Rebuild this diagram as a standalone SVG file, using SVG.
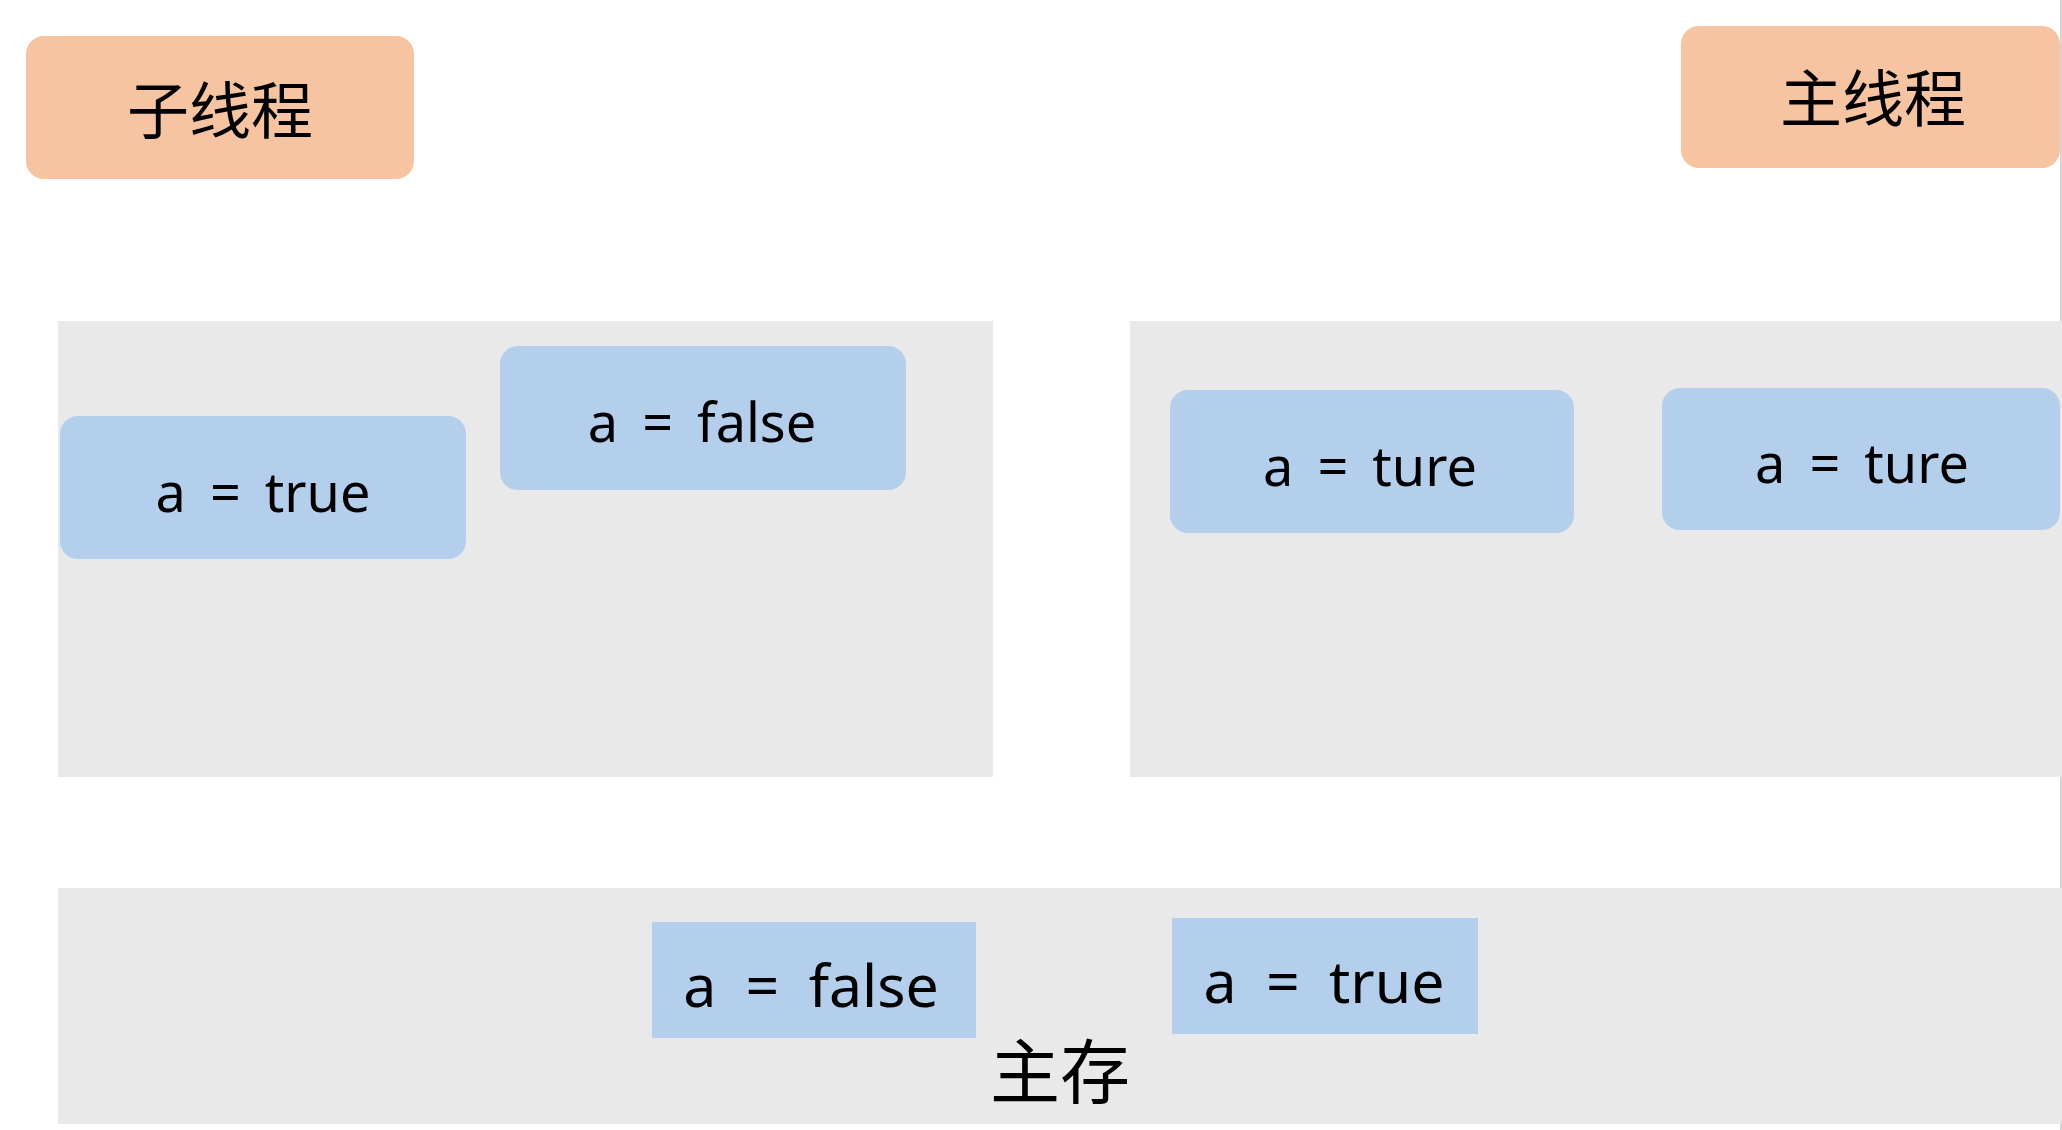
<svg xmlns="http://www.w3.org/2000/svg" width="2062" height="1130" viewBox="0 0 2062 1130">
  <style>
    .thread { fill: #F6C4A0; }
    .var { fill: #B3CFEB; }
    .panel { fill: #E9E9E9; }
    .cjk { font-family: "Noto Sans CJK SC", "Noto Sans", sans-serif; fill: #000; text-anchor: middle; }
    .lat { font-family: "Noto Sans", "Noto Sans CJK SC", sans-serif; fill: #000; text-anchor: middle; font-size: 54px; word-spacing: 10px; }
    .lat-big { font-family: "Noto Sans", "Noto Sans CJK SC", sans-serif; fill: #000; text-anchor: middle; font-size: 59px; word-spacing: 14px; }
  </style>
  <rect x="0" y="0" width="2062" height="1130" fill="#FFFFFF"/>
  <line x1="2061" y1="0" x2="2061" y2="1130" stroke="#D4D4D4" stroke-width="2"/>

  <g id="thread-sub">
    <rect class="thread" x="26" y="36" width="388" height="143" rx="18"/>
    <text class="cjk" x="220" y="134" font-size="62">子线程</text>
  </g>
  <g id="thread-main">
    <rect class="thread" x="1681" y="26" width="379" height="142" rx="18"/>
    <text class="cjk" x="1873" y="122" font-size="62">主线程</text>
  </g>

  <g id="panel-sub">
    <rect class="panel" x="58" y="321" width="935" height="456"/>
  </g>
  <g id="panel-main">
    <rect class="panel" x="1130" y="321" width="932" height="456"/>
  </g>
  <g id="main-memory">
    <rect class="panel" x="58" y="888" width="2004" height="236"/>
    <text class="cjk" x="1060" y="1098" font-size="70">主存</text>
  </g>

  <g id="sub-a-true">
    <rect class="var" x="60" y="416" width="406" height="143" rx="18"/>
    <text class="lat" x="263" y="512">a = true</text>
  </g>
  <g id="sub-a-false">
    <rect class="var" x="500" y="346" width="406" height="144" rx="18"/>
    <text class="lat" x="702" y="442">a = false</text>
  </g>
  <g id="main-a-ture-1">
    <rect class="var" x="1170" y="390" width="404" height="143" rx="18"/>
    <text class="lat" x="1370" y="486">a = ture</text>
  </g>
  <g id="main-a-ture-2">
    <rect class="var" x="1662" y="388" width="398" height="142" rx="18"/>
    <text class="lat" x="1862" y="483">a = ture</text>
  </g>
  <g id="mem-a-false">
    <rect class="var" x="652" y="922" width="324" height="116"/>
    <text class="lat-big" x="811" y="1007">a = false</text>
  </g>
  <g id="mem-a-true">
    <rect class="var" x="1172" y="918" width="306" height="116"/>
    <text class="lat-big" x="1324" y="1003">a = true</text>
  </g>

  <g id="connectors"></g>
</svg>
